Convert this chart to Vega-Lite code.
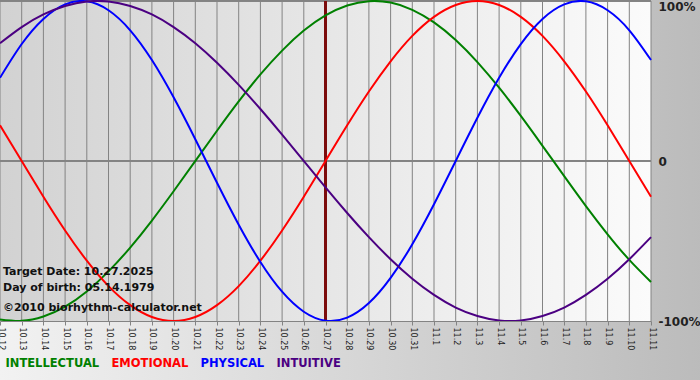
{
  "$schema": "https://vega.github.io/schema/vega-lite/v6.json",
  "width": 651,
  "height": 320,
  "autosize": "none",
  "padding": {"left": 0, "top": 1, "right": 49, "bottom": 59},
  "background": "#c8c8c8",
  "config": {
    "view": {"stroke": null},
    "font": "DejaVu Sans"
  },
  "data": {
    "values": [
      {"date": "2025-10-12", "INTELLECTUAL": -99.0, "EMOTIONAL": 22.3, "PHYSICAL": 52.0, "INTUITIVE": 73.6},
      {"date": "2025-10-13", "INTELLECTUAL": -99.9, "EMOTIONAL": 0.0, "PHYSICAL": 73.1, "INTUITIVE": 83.7},
      {"date": "2025-10-14", "INTELLECTUAL": -97.2, "EMOTIONAL": -22.3, "PHYSICAL": 88.8, "INTUITIVE": 91.6},
      {"date": "2025-10-15", "INTELLECTUAL": -91.0, "EMOTIONAL": -43.4, "PHYSICAL": 97.9, "INTUITIVE": 96.9},
      {"date": "2025-10-16", "INTELLECTUAL": -81.5, "EMOTIONAL": -62.3, "PHYSICAL": 99.8, "INTUITIVE": 99.7},
      {"date": "2025-10-17", "INTELLECTUAL": -69.0, "EMOTIONAL": -78.2, "PHYSICAL": 94.2, "INTUITIVE": 99.7},
      {"date": "2025-10-18", "INTELLECTUAL": -54.1, "EMOTIONAL": -90.1, "PHYSICAL": 81.7, "INTUITIVE": 96.9},
      {"date": "2025-10-19", "INTELLECTUAL": -37.2, "EMOTIONAL": -97.5, "PHYSICAL": 63.1, "INTUITIVE": 91.6},
      {"date": "2025-10-20", "INTELLECTUAL": -18.9, "EMOTIONAL": -100.0, "PHYSICAL": 39.8, "INTUITIVE": 83.7},
      {"date": "2025-10-21", "INTELLECTUAL": 0.0, "EMOTIONAL": -97.5, "PHYSICAL": 13.6, "INTUITIVE": 73.6},
      {"date": "2025-10-22", "INTELLECTUAL": 18.9, "EMOTIONAL": -90.1, "PHYSICAL": -13.6, "INTUITIVE": 61.4},
      {"date": "2025-10-23", "INTELLECTUAL": 37.2, "EMOTIONAL": -78.2, "PHYSICAL": -39.8, "INTUITIVE": 47.6},
      {"date": "2025-10-24", "INTELLECTUAL": 54.1, "EMOTIONAL": -62.3, "PHYSICAL": -63.1, "INTUITIVE": 32.5},
      {"date": "2025-10-25", "INTELLECTUAL": 69.0, "EMOTIONAL": -43.4, "PHYSICAL": -81.7, "INTUITIVE": 16.5},
      {"date": "2025-10-26", "INTELLECTUAL": 81.5, "EMOTIONAL": -22.3, "PHYSICAL": -94.2, "INTUITIVE": 0.0},
      {"date": "2025-10-27", "INTELLECTUAL": 91.0, "EMOTIONAL": 0.0, "PHYSICAL": -99.8, "INTUITIVE": -16.5},
      {"date": "2025-10-28", "INTELLECTUAL": 97.2, "EMOTIONAL": 22.3, "PHYSICAL": -97.9, "INTUITIVE": -32.5},
      {"date": "2025-10-29", "INTELLECTUAL": 99.9, "EMOTIONAL": 43.4, "PHYSICAL": -88.8, "INTUITIVE": -47.6},
      {"date": "2025-10-30", "INTELLECTUAL": 99.0, "EMOTIONAL": 62.3, "PHYSICAL": -73.1, "INTUITIVE": -61.4},
      {"date": "2025-10-31", "INTELLECTUAL": 94.5, "EMOTIONAL": 78.2, "PHYSICAL": -52.0, "INTUITIVE": -73.6},
      {"date": "2025-11-01", "INTELLECTUAL": 86.6, "EMOTIONAL": 90.1, "PHYSICAL": -27.0, "INTUITIVE": -83.7},
      {"date": "2025-11-02", "INTELLECTUAL": 75.6, "EMOTIONAL": 97.5, "PHYSICAL": 0.0, "INTUITIVE": -91.6},
      {"date": "2025-11-03", "INTELLECTUAL": 61.8, "EMOTIONAL": 100.0, "PHYSICAL": 27.0, "INTUITIVE": -96.9},
      {"date": "2025-11-04", "INTELLECTUAL": 45.8, "EMOTIONAL": 97.5, "PHYSICAL": 52.0, "INTUITIVE": -99.7},
      {"date": "2025-11-05", "INTELLECTUAL": 28.2, "EMOTIONAL": 90.1, "PHYSICAL": 73.1, "INTUITIVE": -99.7},
      {"date": "2025-11-06", "INTELLECTUAL": 9.5, "EMOTIONAL": 78.2, "PHYSICAL": 88.8, "INTUITIVE": -96.9},
      {"date": "2025-11-07", "INTELLECTUAL": -9.5, "EMOTIONAL": 62.3, "PHYSICAL": 97.9, "INTUITIVE": -91.6},
      {"date": "2025-11-08", "INTELLECTUAL": -28.2, "EMOTIONAL": 43.4, "PHYSICAL": 99.8, "INTUITIVE": -83.7},
      {"date": "2025-11-09", "INTELLECTUAL": -45.8, "EMOTIONAL": 22.3, "PHYSICAL": 94.2, "INTUITIVE": -73.6},
      {"date": "2025-11-10", "INTELLECTUAL": -61.8, "EMOTIONAL": 0.0, "PHYSICAL": 81.7, "INTUITIVE": -61.4},
      {"date": "2025-11-11", "INTELLECTUAL": -75.6, "EMOTIONAL": -22.3, "PHYSICAL": 63.1, "INTUITIVE": -47.6}
    ]
  },
  "layer": [
    {
      "data": {"values": [{}]},
      "mark": {
        "type": "rect",
        "stroke": null,
        "fill": {"gradient": "linear", "x1": 0, "y1": 0, "x2": 1, "y2": 0,
          "stops": [{"offset": 0, "color": "#f2f2f2"}, {"offset": 1, "color": "#bababa"}]}
      },
      "encoding": {
        "x": {"datum": {"year": 2025, "month": 10, "date": 12, "utc": true}, "type": "temporal", "title": null,
          "scale": {"type": "utc", "domain": [{"year": 2025, "month": 10, "date": 12, "utc": true}, {"year": 2025, "month": 11, "date": 11, "utc": true}], "nice": false}},
        "x2": {"datum": {"year": 2025, "month": 11, "date": 14, "utc": true}},
        "y": {"datum": 103, "type": "quantitative", "title": null, "scale": {"domain": [-100, 100], "nice": false, "zero": false}},
        "y2": {"datum": -140}
      }
    },
    {
      "data": {"values": [{}]},
      "mark": {
        "type": "rect",
        "stroke": null,
        "fill": {"gradient": "linear", "x1": 0, "y1": 0, "x2": 1, "y2": 0,
          "stops": [{"offset": 0, "color": "#d2d2d2"}, {"offset": 1, "color": "#fbfbfb"}]}
      },
      "encoding": {
        "x": {"datum": {"year": 2025, "month": 10, "date": 12, "utc": true}, "type": "temporal", "title": null},
        "x2": {"datum": {"year": 2025, "month": 11, "date": 11, "utc": true}},
        "y": {"datum": 100, "type": "quantitative", "title": null},
        "y2": {"datum": -100}
      }
    },
    {
      "mark": {"type": "rule", "color": "#838383", "strokeWidth": 1},
      "encoding": {
        "x": {"field": "date", "type": "temporal", "title": null}
      }
    },
    {
      "mark": {"type": "rule", "color": "#838383", "strokeWidth": 1},
      "encoding": {"y": {"datum": 0, "type": "quantitative", "title": null}}
    },
    {
      "mark": {"type": "rule", "color": "#838383", "strokeWidth": 1},
      "encoding": {"y": {"datum": 100, "type": "quantitative", "title": null}}
    },
    {
      "mark": {"type": "rule", "color": "#7d0c0c", "strokeWidth": 2},
      "encoding": {"x": {"datum": {"year": 2025, "month": 10, "date": 27, "utc": true}, "type": "temporal", "title": null}}
    },
    {
      "transform": [{"fold": ["INTELLECTUAL", "EMOTIONAL", "PHYSICAL", "INTUITIVE"], "as": ["series", "value"]}],
      "mark": {"type": "line", "strokeWidth": 2, "interpolate": "natural"},
      "encoding": {
        "x": {
          "field": "date", "type": "temporal", "title": null,
          "axis": {
            "zindex": 1,
            "grid": false,
            "tickCount": {"interval": "day", "step": 1},
            "labelExpr": "utcFormat(datum.value, '%-m.%-d')",
            "labelAngle": 90,
            "labelAlign": "left",
            "labelBaseline": "middle",
            "labelFont": "DejaVu Sans",
            "labelFontSize": 8,
            "labelColor": "#222222",
            "labelPadding": 2,
            "labelOverlap": false,
            "labelFlush": false,
            "labelBound": false,
            "domainColor": "#838383",
            "tickColor": "#838383",
            "tickSize": 4
          }
        },
        "y": {
          "field": "value", "type": "quantitative", "title": null,
          "axis": {
            "zindex": 1,
            "orient": "right",
            "grid": false,
            "domain": false,
            "ticks": false,
            "values": [-100, 0, 100],
            "labelExpr": "datum.value == 0 ? '0' : datum.value + '%'",
            "labelFont": "DejaVu Sans",
            "labelFontSize": 12,
            "labelFontWeight": "bold",
            "labelColor": "#222222",
            "labelPadding": 7,
            "labelBaseline": {"condition": {"test": "datum.value == 100", "value": "top"}, "value": "middle"}
          }
        },
        "color": {
          "field": "series", "type": "nominal",
          "scale": {"domain": ["INTELLECTUAL", "EMOTIONAL", "PHYSICAL", "INTUITIVE"], "range": ["#008000", "#ff0000", "#0000ff", "#4b0082"]},
          "legend": {
            "title": null,
            "orient": "none",
            "legendX": -6,
            "legendY": 351,
            "direction": "horizontal",
            "columns": 4,
            "padding": 0,
            "columnPadding": -4,
            "symbolType": "circle",
            "symbolSize": 1,
            "symbolOpacity": 0,
            "symbolStrokeWidth": 0,
            "labelOffset": 0,
            "labelFont": "DejaVu Sans",
            "labelFontSize": 11.5,
            "labelFontWeight": "bold",
            "labelBaseline": "top",
            "encode": {"labels": {"update": {"fill": {"scale": "color", "field": "value"}}}}
          }
        }
      }
    },
    {
      "data": {"values": [{}]},
      "mark": {"type": "text", "text": "Target Date: 10.27.2025", "align": "left", "baseline": "alphabetic", "dx": 3, "font": "DejaVu Sans", "fontSize": 11, "fontWeight": "bold", "color": "#111111"},
      "encoding": {
        "x": {"datum": {"year": 2025, "month": 10, "date": 12, "utc": true}, "type": "temporal", "title": null},
        "y": {"datum": -71, "type": "quantitative", "title": null}
      }
    },
    {
      "data": {"values": [{}]},
      "mark": {"type": "text", "text": "Day of birth: 05.14.1979", "align": "left", "baseline": "alphabetic", "dx": 3, "font": "DejaVu Sans", "fontSize": 11, "fontWeight": "bold", "color": "#111111"},
      "encoding": {
        "x": {"datum": {"year": 2025, "month": 10, "date": 12, "utc": true}, "type": "temporal", "title": null},
        "y": {"datum": -81, "type": "quantitative", "title": null}
      }
    },
    {
      "data": {"values": [{}]},
      "mark": {"type": "text", "text": "©2010 biorhythm-calculator.net", "align": "left", "baseline": "alphabetic", "dx": 3, "font": "DejaVu Sans", "fontSize": 11, "fontWeight": "bold", "color": "#111111"},
      "encoding": {
        "x": {"datum": {"year": 2025, "month": 10, "date": 12, "utc": true}, "type": "temporal", "title": null},
        "y": {"datum": -93.5, "type": "quantitative", "title": null}
      }
    }
  ]
}
